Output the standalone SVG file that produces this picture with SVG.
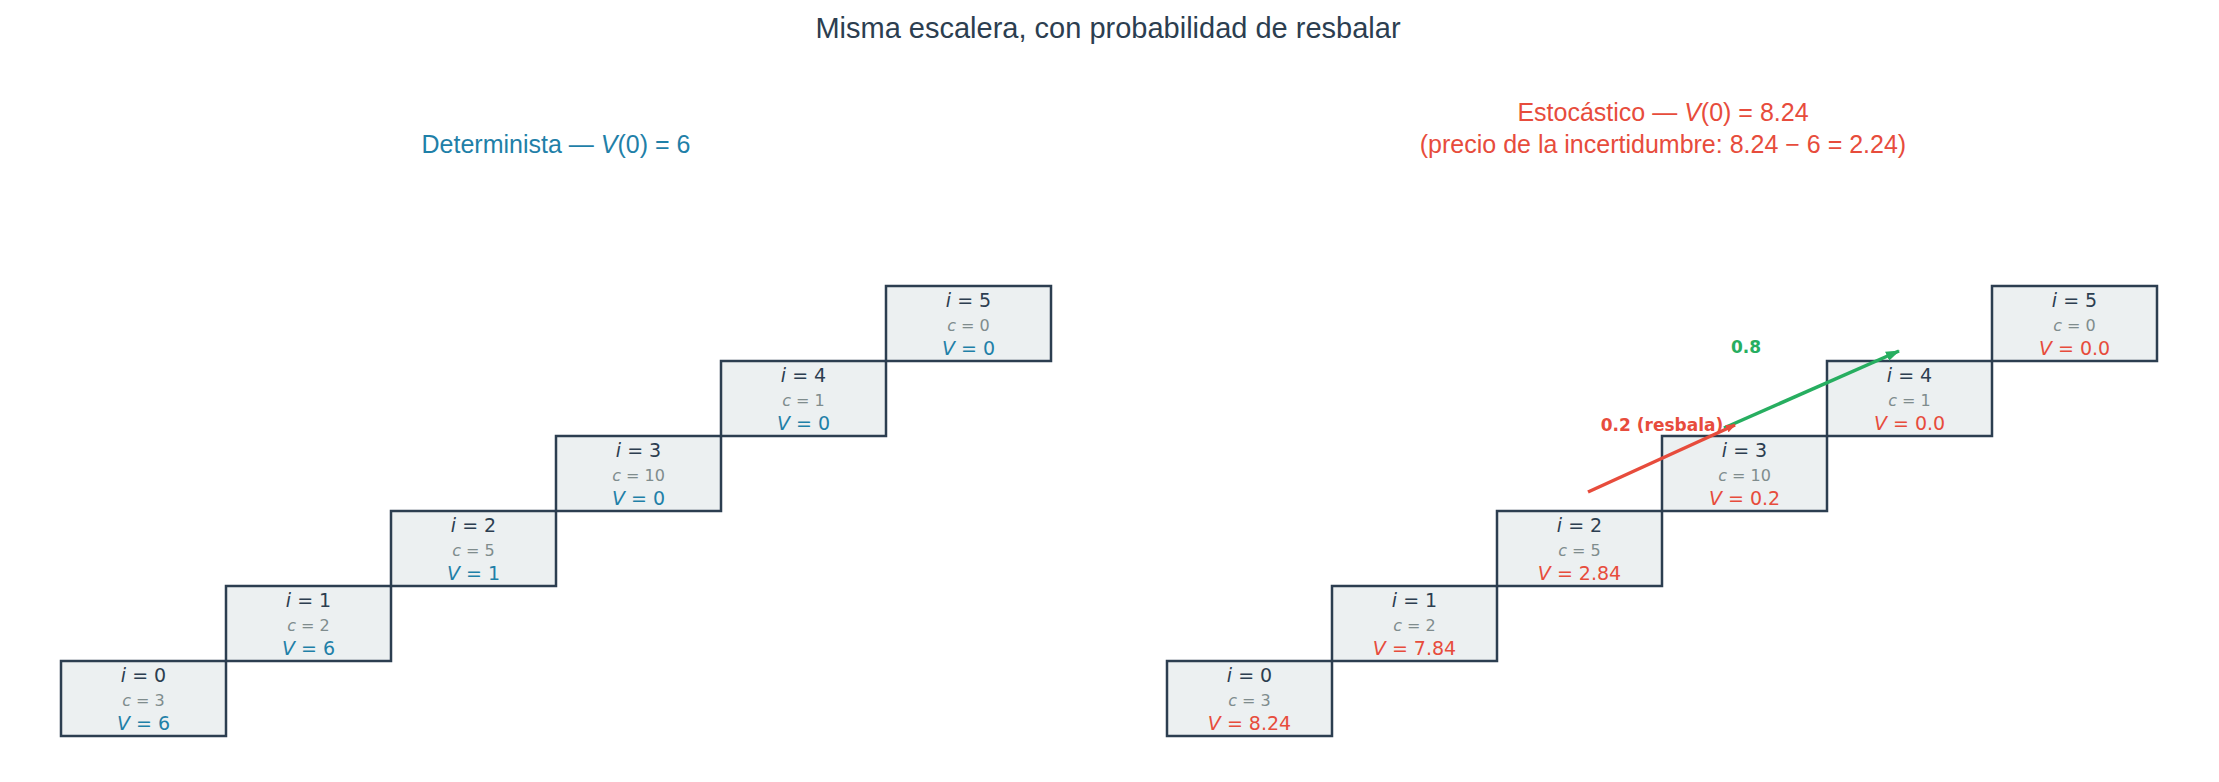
<svg xmlns="http://www.w3.org/2000/svg" width="2219" height="782" viewBox="0 0 2219 782">
<style>
.t{font-family:"Liberation Sans",Arial,sans-serif;text-anchor:middle}
.m{font-family:"DejaVu Sans",sans-serif;text-anchor:middle}
.box{fill:#ecf0f1;stroke:#2c3e50;stroke-width:2.5}
.i{font-size:19px;fill:#2c3e50}
.c{font-size:16px;fill:#7f8c8d}
.vb{font-size:19px;fill:#1f80a8}
.vr{font-size:19px;fill:#e74c3c}
.it{font-style:italic}
</style>
<defs>
<marker id="ar" markerWidth="10" markerHeight="8" refX="9" refY="4" orient="auto" markerUnits="userSpaceOnUse"><path d="M0,0L10,4L0,8z" fill="#e74c3c"/></marker>
<marker id="ag" markerWidth="14" markerHeight="10" refX="13" refY="5" orient="auto" markerUnits="userSpaceOnUse"><path d="M0,0L14,5L0,10z" fill="#27ae60"/></marker>
</defs>
<rect width="2219" height="782" fill="#fff"/>
<text class="t" x="1108" y="38" font-size="29" fill="#2c3e50">Misma escalera, con probabilidad de resbalar</text>
<text class="t" x="556" y="153" font-size="25" fill="#1f80a8">Determinista — <tspan class="it">V</tspan>(0) = 6</text>
<text class="t" x="1663" y="121" font-size="25" fill="#e74c3c">Estocástico — <tspan class="it">V</tspan>(0) = 8.24</text>
<text class="t" x="1663" y="153" font-size="25" fill="#e74c3c">(precio de la incertidumbre: 8.24 − 6 = 2.24)</text>
<g id="L0"><rect class="box" x="61" y="661" width="165" height="75"/><text class="m i" x="143.5" y="682"><tspan class="it">i</tspan> = 0</text><text class="m c" x="143.5" y="706"><tspan class="it">c</tspan> = 3</text><text class="m vb" x="143.5" y="730"><tspan class="it">V</tspan> = 6</text></g>
<g id="L1"><rect class="box" x="226" y="586" width="165" height="75"/><text class="m i" x="308.5" y="607"><tspan class="it">i</tspan> = 1</text><text class="m c" x="308.5" y="631"><tspan class="it">c</tspan> = 2</text><text class="m vb" x="308.5" y="655"><tspan class="it">V</tspan> = 6</text></g>
<g id="L2"><rect class="box" x="391" y="511" width="165" height="75"/><text class="m i" x="473.5" y="532"><tspan class="it">i</tspan> = 2</text><text class="m c" x="473.5" y="556"><tspan class="it">c</tspan> = 5</text><text class="m vb" x="473.5" y="580"><tspan class="it">V</tspan> = 1</text></g>
<g id="L3"><rect class="box" x="556" y="436" width="165" height="75"/><text class="m i" x="638.5" y="457"><tspan class="it">i</tspan> = 3</text><text class="m c" x="638.5" y="481"><tspan class="it">c</tspan> = 10</text><text class="m vb" x="638.5" y="505"><tspan class="it">V</tspan> = 0</text></g>
<g id="L4"><rect class="box" x="721" y="361" width="165" height="75"/><text class="m i" x="803.5" y="382"><tspan class="it">i</tspan> = 4</text><text class="m c" x="803.5" y="406"><tspan class="it">c</tspan> = 1</text><text class="m vb" x="803.5" y="430"><tspan class="it">V</tspan> = 0</text></g>
<g id="L5"><rect class="box" x="886" y="286" width="165" height="75"/><text class="m i" x="968.5" y="307"><tspan class="it">i</tspan> = 5</text><text class="m c" x="968.5" y="331"><tspan class="it">c</tspan> = 0</text><text class="m vb" x="968.5" y="355"><tspan class="it">V</tspan> = 0</text></g>
<g id="R0"><rect class="box" x="1167" y="661" width="165" height="75"/><text class="m i" x="1249.5" y="682"><tspan class="it">i</tspan> = 0</text><text class="m c" x="1249.5" y="706"><tspan class="it">c</tspan> = 3</text><text class="m vr" x="1249.5" y="730"><tspan class="it">V</tspan> = 8.24</text></g>
<g id="R1"><rect class="box" x="1332" y="586" width="165" height="75"/><text class="m i" x="1414.5" y="607"><tspan class="it">i</tspan> = 1</text><text class="m c" x="1414.5" y="631"><tspan class="it">c</tspan> = 2</text><text class="m vr" x="1414.5" y="655"><tspan class="it">V</tspan> = 7.84</text></g>
<g id="R2"><rect class="box" x="1497" y="511" width="165" height="75"/><text class="m i" x="1579.5" y="532"><tspan class="it">i</tspan> = 2</text><text class="m c" x="1579.5" y="556"><tspan class="it">c</tspan> = 5</text><text class="m vr" x="1579.5" y="580"><tspan class="it">V</tspan> = 2.84</text></g>
<g id="R3"><rect class="box" x="1662" y="436" width="165" height="75"/><text class="m i" x="1744.5" y="457"><tspan class="it">i</tspan> = 3</text><text class="m c" x="1744.5" y="481"><tspan class="it">c</tspan> = 10</text><text class="m vr" x="1744.5" y="505"><tspan class="it">V</tspan> = 0.2</text></g>
<g id="R4"><rect class="box" x="1827" y="361" width="165" height="75"/><text class="m i" x="1909.5" y="382"><tspan class="it">i</tspan> = 4</text><text class="m c" x="1909.5" y="406"><tspan class="it">c</tspan> = 1</text><text class="m vr" x="1909.5" y="430"><tspan class="it">V</tspan> = 0.0</text></g>
<g id="R5"><rect class="box" x="1992" y="286" width="165" height="75"/><text class="m i" x="2074.5" y="307"><tspan class="it">i</tspan> = 5</text><text class="m c" x="2074.5" y="331"><tspan class="it">c</tspan> = 0</text><text class="m vr" x="2074.5" y="355"><tspan class="it">V</tspan> = 0.0</text></g>
<g id="connectors">
<line x1="1724" y1="428" x2="1899" y2="351" stroke="#27ae60" stroke-width="3.5" marker-end="url(#ag)"/>
<line x1="1588" y1="492" x2="1735" y2="425" stroke="#e74c3c" stroke-width="3.5" marker-end="url(#ag)" style="marker-end:url(#ar)"/>
<text class="m" x="1662" y="431" font-size="17" font-weight="bold" fill="#e74c3c">0.2 (resbala)</text>
<text class="m" x="1746" y="353" font-size="17" font-weight="bold" fill="#27ae60">0.8</text>
</g>
</svg>
